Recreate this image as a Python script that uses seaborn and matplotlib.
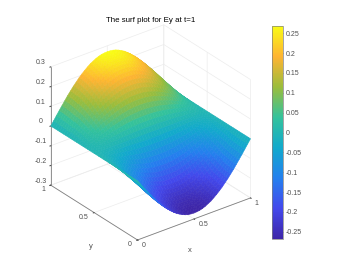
import matplotlib
matplotlib.use("Agg")
import matplotlib.pyplot as plt
import seaborn as sns
import numpy as np
from matplotlib.colors import Normalize
from matplotlib.cm import ScalarMappable

# values
x_vals = [0, 0.025, 0.05, 0.075, 0.1, 0.125, 0.15, 0.175, 0.2, 0.225, 0.25, 0.275, 0.3, 0.325,
          0.35, 0.375, 0.4, 0.425, 0.45, 0.475, 0.5, 0.525, 0.55, 0.575, 0.6, 0.625, 0.65,
          0.675, 0.7, 0.725, 0.75, 0.775, 0.8, 0.825, 0.85, 0.875, 0.9, 0.925, 0.95, 0.975, 1]
y_vals = x_vals
# height along the y=1 edge
edge_height = [0, 0.021, 0.042, 0.063, 0.083, 0.103, 0.123, 0.141, 0.159, 0.175, 0.191, 0.205,
               0.218, 0.23, 0.241, 0.249, 0.257, 0.263, 0.267, 0.269, 0.27, 0.269, 0.267, 0.263,
               0.257, 0.249, 0.241, 0.23, 0.218, 0.205, 0.191, 0.175, 0.159, 0.141, 0.123,
               0.103, 0.083, 0.063, 0.042, 0.021, 0]
# how that edge scales when going from y=0 to y=1
y_weight = [-1, -0.997, -0.988, -0.972, -0.951, -0.924, -0.891, -0.853, -0.809, -0.76, -0.707,
            -0.649, -0.588, -0.522, -0.454, -0.383, -0.309, -0.233, -0.156, -0.078, 0, 0.078,
            0.156, 0.233, 0.309, 0.383, 0.454, 0.522, 0.588, 0.649, 0.707, 0.76, 0.809, 0.853,
            0.891, 0.924, 0.951, 0.972, 0.988, 0.997, 1]
parula = ["#3e26a8", "#4348ec", "#2480ee", "#12aacc", "#34c29c", "#9bbd3c", "#feb432", "#f9fb15"]
z_ticks = [-0.3, -0.2, -0.1, 0, 0.1, 0.2, 0.3]
cbar_ticks = [-0.25, -0.2, -0.15, -0.1, -0.05, 0, 0.05, 0.1, 0.15, 0.2, 0.25]
cbar_labels = ["-0.25", "-0.2", "-0.15", "-0.1", "-0.05", "0", "0.05", "0.1", "0.15", "0.2", "0.25"]
title = "The surf plot for Ey at t=1"

sns.set_style("white")
plt.rcParams["font.family"] = ["Liberation Sans", "DejaVu Sans"]
grey = "#505050"
cmap = sns.blend_palette(parula, n_colors=256, as_cmap=True)
norm = Normalize(-0.268, 0.268)

X, Y = np.meshgrid(x_vals, y_vals)
Z = np.outer(y_weight, edge_height)

fig = plt.figure(figsize=(3.42, 2.57), dpi=100)
ax = fig.add_axes([-0.01, -0.044, 0.88, 1.03], projection="3d", proj_type="ortho")
ax.view_init(elev=29, azim=-127.5)
ax.set_box_aspect((1, 1, 0.95), zoom=0.89)
ax.patch.set_alpha(0)

surf = ax.plot_surface(X, Y, Z, facecolors=cmap(norm(Z)), rcount=41, ccount=41,
                       shade=False, linewidth=0.4, antialiased=True)
# same order as the facets, so the thin edges hide the seams
surf.set_edgecolor(cmap(norm(Z[:-1, :-1])).reshape(-1, 4))

ax.set_xlim(0, 1)
ax.set_ylim(0, 1)
ax.set_zlim(-0.3, 0.3)
ax.set_xticks([0, 0.5, 1], ["0", "0.5", "1"])
ax.set_yticks([0, 0.5, 1], ["0", "0.5", "1"])
ax.set_zticks(z_ticks, ["-0.3", "-0.2", "-0.1", "0", "0.1", "0.2", "0.3"])
ax.tick_params(labelsize=5, colors=grey, pad=-3, length=2)
for axis in (ax.xaxis, ax.yaxis, ax.zaxis):
    axis.set_pane_color((1, 1, 1, 0))
    axis.pane.set_edgecolor("#ececec")
    axis.line.set_color("#808080")
    axis.line.set_linewidth(0.6)
    axis._axinfo["grid"].update(color="#ececec", linewidth=0.5)
    axis._axinfo["tick"].update(inward_factor=0.1, outward_factor=0)
ax.zaxis.set_ticks_position("upper")
for label in ax.get_zticklabels() + ax.get_xticklabels() + ax.get_yticklabels():
    label.set_va("bottom")
for label in ax.get_xticklabels():
    label.set_ha("left")
for label in ax.get_yticklabels():
    label.set_ha("right")
fig.text(151 / 342, 1 - 20 / 257, title, fontsize=5.7, color="black", ha="center", va="center")
fig.text(190 / 342, 1 - 250 / 257, "x", fontsize=5.5, color=grey, ha="center", va="center")
fig.text(91 / 342, 1 - 246 / 257, "y", fontsize=5.5, color=grey, ha="center", va="center")

cax = fig.add_axes([272 / 342, 1 - 239 / 257, 11.5 / 342, 213 / 257])
cb = fig.colorbar(ScalarMappable(norm=norm, cmap=cmap), cax=cax, ticks=cbar_ticks)
cb.ax.set_yticklabels(cbar_labels)
cb.ax.tick_params(labelsize=5, colors=grey, length=1.5, width=0.4, pad=1.5, direction="in")
cb.outline.set_edgecolor("#808080")
cb.outline.set_linewidth(0.5)

fig.savefig("out.png", dpi=100, facecolor="white")
